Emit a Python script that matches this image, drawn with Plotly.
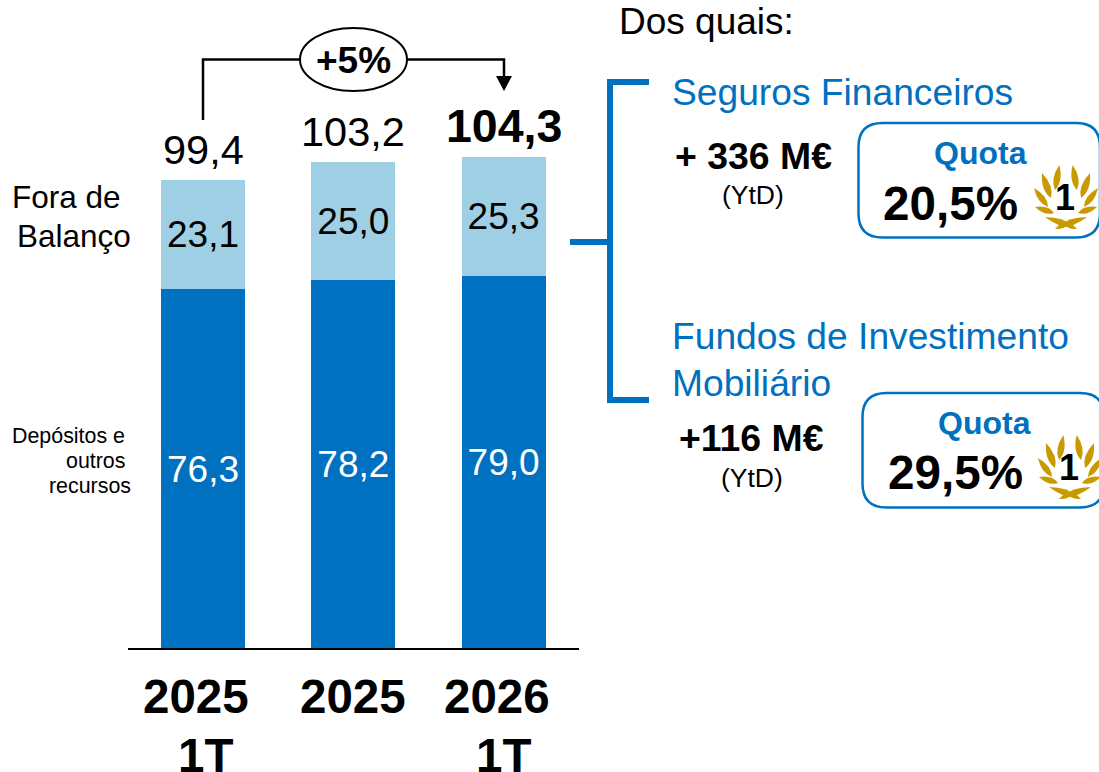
import plotly.graph_objects as go

W, H = 1099, 772
categories = [0, 1, 2]
periods_top = ["2025", "2025", "2026"]
periods_bottom = ["1T", "", "1T"]
on_balance = [76.3, 78.2, 79.0]
off_balance = [23.1, 25.0, 25.3]
totals = [99.4, 103.2, 104.3]
total_labels = ["99,4", "103,2", "<b>104,3</b>"]

DARK = "#0070C0"
LIGHT = "#9FCFE4"
GOLD = "#C99A00"
FONT = "Liberation Sans"

PX_PER_UNIT = 4.718
X0, XSTEP, BASE = 203.0, 150.3, 649.0


def px(x):
    return x / W


def py(y):
    return 1 - y / H


def P(x, y):
    return f"{px(x):.5f},{py(y):.5f}"


fig = go.Figure()
for vals, col, txt in ((on_balance, DARK, "white"), (off_balance, LIGHT, "black")):
    fig.add_bar(
        x=categories, y=vals, marker=dict(color=col, line=dict(width=0)),
        texttemplate="%{y:.1f}", textposition="inside", insidetextanchor="middle",
        textangle=0, constraintext="none",
        textfont=dict(color=txt, size=37, family=FONT), hoverinfo="skip",
    )

shapes = []


def line(points, color="black", width=2.5):
    d = "M" + " L".join(P(*p) for p in points)
    shapes.append(dict(type="path", xref="paper", yref="paper", path=d,
                       line=dict(color=color, width=width)))


def fill(d, color):
    shapes.append(dict(type="path", xref="paper", yref="paper", path=d,
                       fillcolor=color, line=dict(width=0), layer="above"))


def leaf(base, tip, bulge, ox, oy):
    bx, by = base
    tx, ty = tip
    # control points sit nearer the base, giving a teardrop outline
    mx, my = bx + (tx - bx) * 0.4, by + (ty - by) * 0.4
    dx, dy = tx - bx, ty - by
    nx, ny = -dy, dx
    c1 = (mx + nx * bulge, my + ny * bulge)
    c2 = (mx - nx * bulge, my - ny * bulge)
    for s in (1, -1):
        f = lambda p: (ox + s * p[0], oy + p[1])
        d = f"M{P(*f(base))} Q{P(*f(c1))} {P(*f(tip))} Q{P(*f(c2))} {P(*f(base))} Z"
        fill(d, GOLD)


def laurel(ox, oy):
    # leaves given relative to the wreath's axis
    for base, tip, b in [
        ((11, -12), (6.7, -37), 0.27),
        ((15, -4), (24, -29), 0.27),
        ((18, 5), (32, -14), 0.27),
        ((12, 11), (31, 5), 0.3),
        ((-8, 25), (21, 15), 0.2),
        ((-3, 21), (11, 27), 0.3),
    ]:
        leaf(base, tip, b, ox, oy)


def rounded_box(x0, y0, x1, y1, r):
    d = (f"M{P(x0 + r, y0)} L{P(x1 - r, y0)} Q{P(x1, y0)} {P(x1, y0 + r)} "
         f"L{P(x1, y1 - r)} Q{P(x1, y1)} {P(x1 - r, y1)} L{P(x0 + r, y1)} "
         f"Q{P(x0, y1)} {P(x0, y1 - r)} L{P(x0, y0 + r)} Q{P(x0, y0)} {P(x0 + r, y0)} Z")
    shapes.append(dict(type="path", xref="paper", yref="paper", path=d,
                       line=dict(color=DARK, width=2.5)))


# baseline
line([(128, 649), (579, 649)], "black", 2)
# growth connector
line([(203, 120), (203, 59.5), (300, 59.5)])
line([(407, 59.5), (504, 59.5), (504, 78)])
fill(f"M{P(496, 76)} L{P(512, 76)} L{P(504, 91)} Z", "black")
shapes.append(dict(type="circle", xref="paper", yref="paper",
                   x0=px(300), x1=px(407), y0=py(91), y1=py(28),
                   line=dict(color="black", width=2), fillcolor="white"))
# bracket
line([(649, 82), (610, 82), (610, 400), (649, 400)], DARK, 6)
line([(570, 242), (610, 242)], DARK, 6)
# quota boxes
rounded_box(858.5, 123, 1100, 237.5, 24)
rounded_box(862.5, 393, 1104, 507.5, 24)
laurel(1066, 202)
laurel(1070, 472)

ann = []


def T(text, cx, cy, size, color="black", bold=False):
    ann.append(dict(text=f"<b>{text}</b>" if bold else text, x=px(cx), y=py(cy),
                    xref="paper", yref="paper", xanchor="center", yanchor="middle",
                    showarrow=False, font=dict(family=FONT, size=size, color=color)))


for i, (t, lab) in enumerate(zip(totals, total_labels)):
    ann.append(dict(text=lab, x=categories[i], y=t, xref="x", yref="y",
                    xanchor="center", yanchor="bottom", showarrow=False, yshift=[5, 5, 3][i],
                    font=dict(family=FONT, size=46.5 if i == 2 else 41.5, color="black")))

for top, cx in zip(periods_top, (196, 353, 497)):
    T(top, cx, 696, 47.5, bold=True)
for bot, cx in zip(periods_bottom, (205, 353, 503)):
    if bot:
        T(bot, cx, 755, 47.5, bold=True)

T("Fora de", 66.5, 197, 31.5)
T("Balanço", 74, 236, 31.5)
T("Depósitos e", 68.5, 436, 21.4)
T("outros", 95, 461, 21.4)
T("recursos", 90, 486, 21.4)
T("+5%", 353.5, 60, 37, bold=True)
T("Dos quais:", 706.5, 22, 37)
T("Seguros Financeiros", 842.5, 92, 37.2, DARK)
T("Fundos de Investimento", 870.5, 336, 37.2, DARK)
T("Mobiliário", 751.5, 383, 37.2, DARK)
T("+ 336 M€", 753.5, 156, 37.4, bold=True)
T("(YtD)", 753, 195, 26.5)
T("+116 M€", 751.5, 438, 37.4, bold=True)
T("(YtD)", 752, 478, 26.5)
T("Quota", 980, 153, 32, DARK, True)
T("20,5%", 950.5, 203, 47.6, bold=True)
T("Quota", 984, 423, 32, DARK, True)
T("29,5%", 955, 473, 47.6, bold=True)
T("1", 1065, 197, 36, bold=True)
T("1", 1069, 467, 36, bold=True)

fig.update_layout(
    width=W, height=H, margin=dict(l=0, r=0, t=0, b=0),
    barmode="stack", bargap=1 - 84 / XSTEP, showlegend=False,
    separators=",.", plot_bgcolor="white", paper_bgcolor="white",
    xaxis=dict(range=[-X0 / XSTEP, (W - X0) / XSTEP], visible=False, fixedrange=True),
    yaxis=dict(range=[-(H - BASE) / PX_PER_UNIT, BASE / PX_PER_UNIT], visible=False, fixedrange=True),
    shapes=shapes, annotations=ann,
    font=dict(family=FONT),
)
fig.write_html("out.html", config=dict(displayModeBar=False),
               post_script="document.body.style.margin='0';document.documentElement.style.overflow='hidden';")
